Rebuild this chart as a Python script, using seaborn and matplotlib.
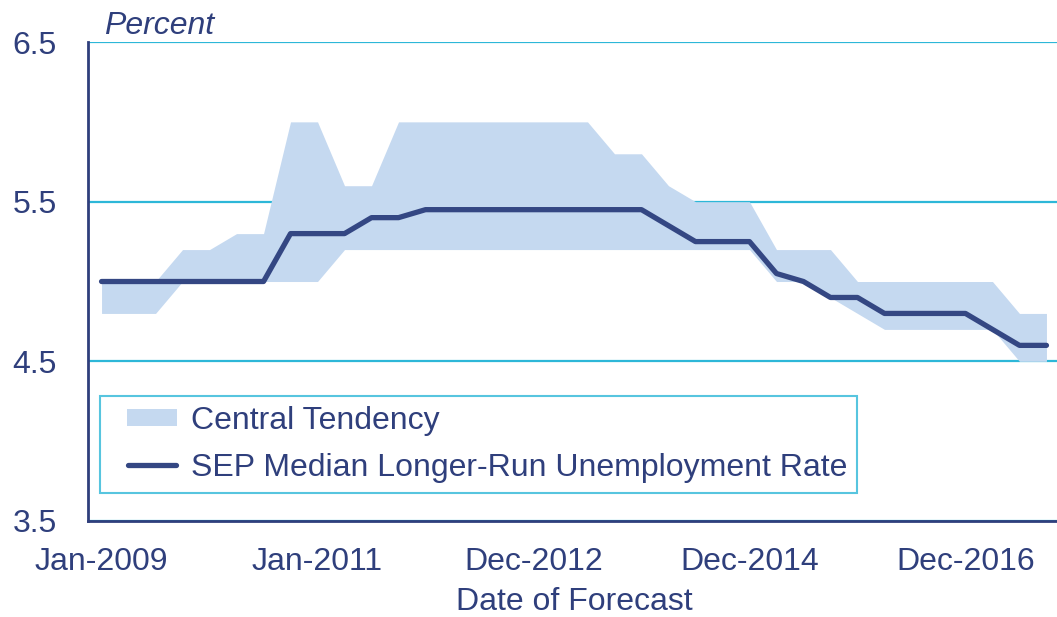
import matplotlib
matplotlib.use("Agg")
import matplotlib.pyplot as plt
from matplotlib.legend_handler import HandlerBase
from matplotlib.lines import Line2D
from matplotlib.patches import Patch, Rectangle
import numpy as np
import pandas as pd
import seaborn as sns

# SEP release dates (quarterly-ish)
dates = [
    "Jan-2009", "Apr-2009", "Jun-2009", "Nov-2009",
    "Jan-2010", "Apr-2010", "Jun-2010", "Nov-2010",
    "Jan-2011", "Apr-2011", "Jun-2011", "Nov-2011",
    "Jan-2012", "Apr-2012", "Jun-2012", "Sep-2012",
    "Dec-2012", "Mar-2013", "Jun-2013", "Sep-2013",
    "Dec-2013", "Mar-2014", "Jun-2014", "Sep-2014",
    "Dec-2014", "Mar-2015", "Jun-2015", "Sep-2015",
    "Dec-2015", "Mar-2016", "Jun-2016", "Sep-2016",
    "Dec-2016", "Mar-2017", "Jun-2017", "Sep-2017",
]
median = [
    5.0, 5.0, 5.0, 5.0, 5.0, 5.0, 5.0, 5.3, 5.3, 5.3, 5.4, 5.4,
    5.45, 5.45, 5.45, 5.45, 5.45, 5.45, 5.45, 5.45, 5.45, 5.35, 5.25, 5.25,
    5.25, 5.05, 5.0, 4.9, 4.9, 4.8, 4.8, 4.8, 4.8, 4.7, 4.6, 4.6,
]
ct_upper = [
    5.0, 5.0, 5.0, 5.2, 5.2, 5.3, 5.3, 6.0, 6.0, 5.6, 5.6, 6.0,
    6.0, 6.0, 6.0, 6.0, 6.0, 6.0, 6.0, 5.8, 5.8, 5.6, 5.5, 5.5,
    5.5, 5.2, 5.2, 5.2, 5.0, 5.0, 5.0, 5.0, 5.0, 5.0, 4.8, 4.8,
]
ct_lower = [
    4.8, 4.8, 4.8, 5.0, 5.0, 5.0, 5.0, 5.0, 5.0, 5.2, 5.2, 5.2,
    5.2, 5.2, 5.2, 5.2, 5.2, 5.2, 5.2, 5.2, 5.2, 5.2, 5.2, 5.2,
    5.2, 5.0, 5.0, 4.9, 4.8, 4.7, 4.7, 4.7, 4.7, 4.7, 4.5, 4.5,
]
label_dates = ["Jan-2009", "Jan-2011", "Dec-2012", "Dec-2014", "Dec-2016"]
y_ticks = [3.5, 4.5, 5.5, 6.5]

navy = "#2F3F7C"
line_col = "#344783"
band_col = "#C5D9F0"
cyan = "#2DB7D8"
fs = 23


class InsetHandler(HandlerBase):
    """Draws the legend key in only part of the handle box (Excel-like indent)."""

    def __init__(self, start, stop, kind):
        super().__init__()
        self.start, self.stop, self.kind = start, stop, kind

    def create_artists(self, legend, orig_handle, xdescent, ydescent,
                       width, height, fontsize, trans):
        x0 = -xdescent + self.start * width
        x1 = -xdescent + self.stop * width
        if self.kind == "patch":
            h = 0.75 * height
            y0 = -ydescent + (height - h) / 2
            art = Rectangle((x0, y0), x1 - x0, h, facecolor=orig_handle.get_facecolor(),
                            edgecolor="none", transform=trans)
        else:
            y = -ydescent + height / 2
            art = Line2D([x0, x1], [y, y], color=orig_handle.get_color(),
                         linewidth=orig_handle.get_linewidth(),
                         solid_capstyle="round", transform=trans)
        return [art]


sns.set_style("white")
plt.rcParams["font.family"] = ["Liberation Sans", "DejaVu Sans"]

df = pd.DataFrame({"idx": np.arange(len(dates)), "date": dates, "median": median,
                   "lo": ct_lower, "hi": ct_upper})

fig = plt.figure(figsize=(10.57, 6.17), dpi=100)
ax = fig.add_axes([0.0833, 0.1556, 0.9195, 0.7763])

ax.fill_between(df["idx"], df["lo"], df["hi"], color=band_col, linewidth=0, zorder=2)
sns.lineplot(data=df, x="idx", y="median", color=line_col, linewidth=3.8,
             solid_capstyle="round", ax=ax, zorder=3)

ax.set_xlim(-0.5, len(dates) - 0.5)
ax.set_ylim(3.5, 6.5)
ax.set_yticks(y_ticks)
ax.set_yticklabels([f"{v:.1f}" for v in y_ticks])
ax.yaxis.grid(True, color=cyan, linewidth=1.6)
ax.set_axisbelow(True)

label_pos = [dates.index(d) for d in label_dates]
ax.set_xticks(label_pos)
ax.set_xticklabels(label_dates)
ax.set_xticks([p - 0.5 for p in label_pos], minor=True)
ax.tick_params(axis="x", which="major", length=0, pad=19, labelsize=fs, labelcolor=navy)
ax.tick_params(axis="x", which="minor", length=6.5, width=1.5, color=navy, direction="out")
ax.tick_params(axis="y", length=0, pad=22.5, labelsize=fs, labelcolor=navy)

for side in ["top", "right"]:
    ax.spines[side].set_visible(False)
for side in ["left", "bottom"]:
    ax.spines[side].set_color(navy)
    ax.spines[side].set_linewidth(2)
    ax.spines[side].set_zorder(4)

ax.set_xlabel("Date of Forecast", fontsize=fs, color=navy, labelpad=7)
ax.set_ylabel("")
ax.text(0.016, 1.003, "Percent", transform=ax.transAxes, fontsize=fs,
        style="italic", color=navy, va="bottom", ha="left")

band_handle = Patch(facecolor=band_col, edgecolor="none")
line_handle = Line2D([0], [0], color=line_col, linewidth=3.8)
leg = ax.legend([band_handle, line_handle],
                ["Central Tendency", "SEP Median Longer-Run Unemployment Rate"],
                handler_map={band_handle: InsetHandler(0.22, 0.86, "patch"),
                             line_handle: InsetHandler(0.24, 0.85, "line")},
                loc="upper left", bbox_to_anchor=(0.0123, 0.261), borderaxespad=0,
                fontsize=fs, frameon=True, fancybox=False, handlelength=2.45,
                handletextpad=0.1, borderpad=0.3, labelspacing=0.55)
leg.get_frame().set_edgecolor(cyan)
leg.get_frame().set_linewidth(1.5)
for t in leg.get_texts():
    t.set_color(navy)

fig.savefig("out.png", dpi=100)
